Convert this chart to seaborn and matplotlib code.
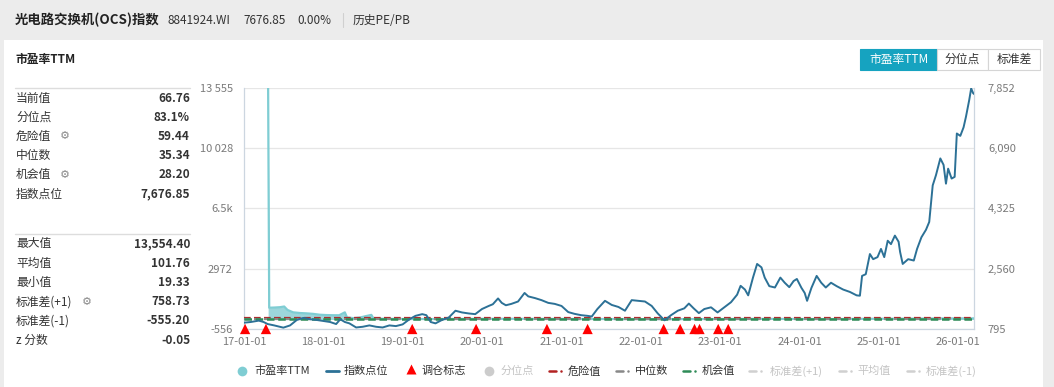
import matplotlib
matplotlib.use("Agg")
import matplotlib.pyplot as plt
import matplotlib.dates as mdates
from matplotlib.lines import Line2D
from matplotlib.patches import Rectangle
import pandas as pd
import seaborn as sns

# === DONNEES ===
index_dates = [
    "2017-01-01", "2017-02-01", "2017-03-10", "2017-04-01", "2017-04-20", "2017-05-20",
    "2017-07-01", "2017-08-01", "2017-09-01", "2017-10-01", "2017-11-01", "2017-12-01",
    "2018-01-01", "2018-02-01", "2018-03-01", "2018-03-20", "2018-04-10", "2018-05-01",
    "2018-06-01", "2018-07-01", "2018-08-01", "2018-09-01", "2018-10-01", "2018-11-01",
    "2018-12-01", "2019-01-01", "2019-02-01", "2019-03-01", "2019-04-01", "2019-04-20",
    "2019-05-10", "2019-06-01", "2019-07-01", "2019-08-01", "2019-09-01", "2019-10-01",
    "2019-11-01", "2019-12-01", "2020-01-01", "2020-02-01", "2020-02-20", "2020-03-15",
    "2020-04-01", "2020-04-20", "2020-05-15", "2020-06-15", "2020-07-15", "2020-08-01",
    "2020-09-01", "2020-10-01", "2020-11-01", "2020-12-01", "2021-01-01", "2021-02-01",
    "2021-03-01", "2021-04-01", "2021-05-01", "2021-05-20", "2021-06-15", "2021-07-20",
    "2021-08-20", "2021-09-20", "2021-10-20", "2021-11-20", "2021-12-20", "2022-01-20",
    "2022-02-20", "2022-03-20", "2022-04-20", "2022-05-20", "2022-06-20", "2022-07-20",
    "2022-08-10", "2022-09-01", "2022-09-25", "2022-10-20", "2022-11-20", "2022-12-20",
    "2023-01-20", "2023-02-20", "2023-03-20", "2023-04-05", "2023-04-25", "2023-05-10",
    "2023-06-01", "2023-06-20", "2023-07-10", "2023-07-25", "2023-08-15", "2023-09-10",
    "2023-10-05", "2023-10-25", "2023-11-15", "2023-12-05", "2023-12-20", "2024-01-10",
    "2024-01-25", "2024-02-05", "2024-02-25", "2024-03-20", "2024-04-10", "2024-05-01",
    "2024-05-25", "2024-06-20", "2024-07-20", "2024-08-20", "2024-09-20", "2024-10-05",
    "2024-10-15", "2024-11-01", "2024-11-20", "2024-12-05", "2024-12-25", "2025-01-10",
    "2025-01-25", "2025-02-10", "2025-02-25", "2025-03-15", "2025-04-01", "2025-04-08",
    "2025-04-20", "2025-05-15", "2025-06-10", "2025-06-25", "2025-07-15", "2025-08-05",
    "2025-08-20", "2025-09-05", "2025-09-20", "2025-10-10", "2025-10-25", "2025-11-05",
    "2025-11-15", "2025-12-01", "2025-12-15", "2025-12-25", "2026-01-10", "2026-01-25",
    "2026-02-05", "2026-02-20", "2026-03-01", "2026-03-10", "2026-03-14",
]
index_values = [
    980, 1000, 1040, 1000, 940, 900,
    835, 900, 1060, 1120, 1080, 1060,
    1030, 1000, 940, 1080, 1000, 960,
    840, 860, 900, 860, 840, 900,
    880, 930, 1080, 1180, 1230, 1200,
    1000, 960, 1060, 1130, 1330, 1280,
    1250, 1230, 1380, 1470, 1520, 1690,
    1560, 1490, 1530, 1600, 1850, 1750,
    1700, 1640, 1560, 1530, 1470, 1290,
    1240, 1200, 1180, 1160, 1380, 1620,
    1500, 1440, 1330, 1640, 1620, 1600,
    1470, 1250, 1050, 1200, 1330, 1400,
    1540, 1400, 1260, 1380, 1430, 1280,
    1430, 1580, 1800, 2060, 1950, 1780,
    2300, 2700, 2600, 2300, 2050, 2010,
    2300, 2150, 2020, 2200, 2260, 2000,
    1850, 1620, 2000, 2350, 2150, 2010,
    2150, 2050, 1950, 1880, 1780, 1770,
    2350, 2400, 2990, 2840, 2900, 3140,
    2900, 3380, 3280, 3530, 3350, 3050,
    2700, 2840, 2800, 3140, 3480, 3700,
    3930, 5000, 5300, 5790, 5600, 5050,
    5490, 5200, 5250, 6520, 6450, 6700,
    7010, 7500, 7840, 7700, 7677,
]

pe_dates = [
    "2017-04-22", "2017-04-27", "2017-05-20", "2017-06-15", "2017-07-05", "2017-07-20",
    "2017-08-15", "2017-09-15", "2017-10-15", "2017-11-15", "2017-12-15", "2018-01-15",
    "2018-02-15", "2018-03-15", "2018-04-10", "2018-04-20", "2018-05-20", "2018-06-20",
    "2018-07-20", "2018-08-10", "2018-08-20", "2018-10-01", "2019-01-01", "2019-06-01",
    "2020-01-01", "2020-06-01", "2021-01-01", "2021-06-01", "2022-01-01", "2022-06-01",
    "2023-01-01", "2023-06-01", "2024-01-01", "2024-06-01", "2025-01-01", "2025-06-01",
    "2025-10-01", "2026-03-14",
]
pe_values = [
    13554.4, 690, 700, 720, 760, 560,
    420, 380, 360, 330, 280, 260,
    250, 250, 420, 120, 80, 120,
    210, 270, 60, 45, 30, 28,
    40, 42, 35, 30, 25, 22,
    30, 38, 32, 28, 45, 50,
    62, 66.76,
]

rebalance_dates = [
    "2017-01-06", "2017-04-12", "2019-02-14", "2019-12-05", "2020-10-26", "2021-05-01",
    "2022-04-16", "2022-07-01", "2022-09-05", "2022-09-28", "2022-12-23", "2023-02-07",
]

danger_value = 59.44
median_value = 35.34
chance_value = 28.20

left_ticks = [-556, 2972, 6500, 10028, 13555]
left_tick_labels = ["-556", "2972", "6.5k", "10 028", "13 555"]
right_ticks = [795, 2560, 4325, 6090, 7852]
right_tick_labels = ["795", "2,560", "4,325", "6,090", "7,852"]

stats_top = [("当前值", "66.76"), ("分位点", "83.1%"), ("危险值", "59.44"),
             ("中位数", "35.34"), ("机会值", "28.20"), ("指数点位", "7,676.85")]
stats_bottom = [("最大值", "13,554.40"), ("平均值", "101.76"), ("最小值", "19.33"),
                ("标准差(+1)", "758.73"), ("标准差(-1)", "-555.20"), ("z 分数", "-0.05")]
gear_labels = ["危险值", "机会值", "标准差(+1)"]

legend_labels = ["市盈率TTM", "指数点位", "调仓标志", "分位点", "危险值", "中位数",
                 "机会值", "标准差(+1)", "平均值", "标准差(-1)"]

# === STYLE ===
sns.set_theme(style="white")
plt.rcParams["font.family"] = ["Noto Sans CJK SC", "DejaVu Sans"]

W, H = 1054, 387
fx = lambda x: x / W
fy = lambda y: 1 - y / H

PE_COLOR = "#7fcdd3"
IDX_COLOR = "#2c7196"
GREEN = "#2e8b57"
RED_DASH = "#b22222"
GRAY_DASH = "#888888"
TEXT = "#333333"
DISABLED = "#c4c4c4"

fig = plt.figure(figsize=(W / 100, H / 100), dpi=100)
fig.patch.set_facecolor("#ececec")
fig.add_artist(Rectangle((fx(4), 0), fx(1043) - fx(4), fy(40), transform=fig.transFigure,
                         facecolor="white", edgecolor="none", zorder=0))

# === BANDEAU TITRE ===
fig.text(fx(15), fy(20), "光电路交换机(OCS)指数", fontsize=9.6, weight="bold", color="#222", va="center")
for x, s in [(168, "8841924.WI"), (243, "7676.85"), (297, "0.00%"), (353, "历史PE/PB")]:
    fig.text(fx(x), fy(20), s, fontsize=8.5, color=TEXT, va="center")
fig.add_artist(Line2D([fx(343), fx(343)], [fy(13), fy(27)], transform=fig.transFigure, color="#d0d0d0", lw=0.8))

# === PANNEAU GAUCHE ===
fig.text(fx(16), fy(59), "市盈率TTM", fontsize=8.5, weight="bold", color="#222", va="center")
for y_sep in [88, 234]:
    fig.add_artist(Line2D([fx(15), fx(190)], [fy(y_sep), fy(y_sep)], transform=fig.transFigure,
                          color="#dddddd", lw=1))


def draw_stats(rows, y0):
    for i, (lab, val) in enumerate(rows):
        y = y0 + i * 19.2
        fig.text(fx(16), fy(y), lab, fontsize=8.5, color=TEXT, va="center")
        if lab in gear_labels:
            gx = 65 if len(lab) == 3 else 87
            fig.text(fx(gx), fy(y), "⚙", fontsize=8, color="#888", va="center", ha="center",
                     family="DejaVu Sans")
        fig.text(fx(190), fy(y), val, fontsize=8.5, weight="bold", color=TEXT, va="center", ha="right")


draw_stats(stats_top, 98)
draw_stats(stats_bottom, 244)

# === BOUTONS ===
for (x0, x1), lab, sel in [((860, 937), "市盈率TTM", True), ((937, 988), "分位点", False),
                           ((988, 1040), "标准差", False)]:
    fig.add_artist(Rectangle((fx(x0), fy(70)), fx(x1) - fx(x0), fy(49) - fy(70), transform=fig.transFigure,
                             facecolor="#16a3c0" if sel else "white",
                             edgecolor="#16a3c0" if sel else "#d5d5d5", lw=0.8))
    fig.text(fx((x0 + x1) / 2), fy(59.5), lab, fontsize=8.5, ha="center", va="center",
             color="white" if sel else TEXT)

# === GRAPHIQUE ===
ax = fig.add_axes([fx(244), fy(329), fx(974) - fx(244), fy(88) - fy(329)])
df_pe = pd.DataFrame({"date": pd.to_datetime(pe_dates), "pe": pe_values})
df_idx = pd.DataFrame({"date": pd.to_datetime(index_dates), "value": index_values})

ax.fill_between(df_pe["date"], df_pe["pe"], 0, color="#92d2d7", alpha=0.9, lw=0, zorder=2)
sns.lineplot(data=df_pe, x="date", y="pe", ax=ax, color=PE_COLOR, lw=1.6, zorder=3)
ax.axhline(danger_value, color=RED_DASH, ls=(0, (3, 1.5)), lw=1.6, zorder=4)
ax.axhline(median_value, color=GRAY_DASH, ls=(0, (3, 1.5)), lw=1.6, zorder=4)
ax.axhline(chance_value, color=GREEN, ls=(0, (3, 1.5)), lw=1.8, zorder=5)

ax.set_ylim(left_ticks[0], left_ticks[-1])
ax.set_yticks(left_ticks, left_tick_labels)
ax.set_xlim(pd.Timestamp("2017-01-01"), pd.Timestamp("2026-03-14"))
ax.xaxis.set_major_locator(mdates.YearLocator())
ax.xaxis.set_major_formatter(mdates.DateFormatter("%y-%m-%d"))
ax.grid(axis="y", color="#e6e6e6", lw=0.9)
ax.grid(axis="x", visible=False)
ax.set_xlabel("")
ax.set_ylabel("")
ax.tick_params(axis="y", length=0, pad=8, labelsize=8, labelcolor="#7a7a7a")
ax.tick_params(axis="x", length=4, width=0.8, color="#ccd6e0", pad=1.5, labelsize=8, labelcolor="#7a7a7a")
for side in ["left", "bottom", "right"]:
    ax.spines[side].set_color("#ccd6e0")
    ax.spines[side].set_linewidth(0.9)
ax.spines["top"].set_visible(False)

ax2 = ax.twinx()
sns.lineplot(data=df_idx, x="date", y="value", ax=ax2, color=IDX_COLOR, lw=1.4, zorder=3)
ax2.set_ylim(right_ticks[0], right_ticks[-1])
ax2.set_yticks(right_ticks, right_tick_labels)
ax2.tick_params(axis="y", length=0, pad=10, labelsize=8, labelcolor="#7a7a7a")
ax2.grid(False)
for side in ax2.spines:
    ax2.spines[side].set_visible(False)

df_reb = pd.DataFrame({"date": pd.to_datetime(rebalance_dates)})
df_reb["y"] = ax2.get_ylim()[0]
sns.scatterplot(data=df_reb, x="date", y="y", ax=ax2, marker="^", s=55, color="#ff0000",
                edgecolor="none", clip_on=False, zorder=6)
ax2.set_ylabel("")
ax2.set_xlabel("")

# === LEGENDE ===
ly = fy(371)
legend_items = [
    ("circle", PE_COLOR, 242, 254, TEXT),
    ("solid", IDX_COLOR, 326, 344, TEXT),
    ("tri", "#ff0000", 411, 421, TEXT),
    ("circle", "#cccccc", 489, 501, DISABLED),
    ("dash", RED_DASH, 549, 568, TEXT),
    ("dash", GRAY_DASH, 616, 635, TEXT),
    ("dash", GREEN, 683, 702, TEXT),
    ("dash", "#d0d0d0", 749, 770, DISABLED),
    ("dash", "#d0d0d0", 839, 857, DISABLED),
    ("dash", "#d0d0d0", 907, 926, DISABLED),
]
for (kind, col, mx, tx, tcol), lab in zip(legend_items, legend_labels):
    if kind == "circle":
        fig.add_artist(Line2D([fx(mx)], [ly], marker="o", ms=7, color=col, mec="none",
                              transform=fig.transFigure))
    elif kind == "tri":
        fig.add_artist(Line2D([fx(mx)], [ly + 0.004], marker="^", ms=7, color=col, mec="none",
                              transform=fig.transFigure))
    elif kind == "solid":
        fig.add_artist(Line2D([fx(mx), fx(mx + 13)], [ly, ly], color=col, lw=2, transform=fig.transFigure))
    else:
        fig.add_artist(Line2D([fx(mx), fx(mx + 7)], [ly, ly], color=col, lw=1.8, transform=fig.transFigure))
        fig.add_artist(Line2D([fx(mx + 12)], [ly], marker="o", ms=1.8, color=col, mec="none",
                              transform=fig.transFigure))
    fig.text(fx(tx), ly, lab, fontsize=8, color=tcol, va="center")

plt.savefig("out.png", dpi=100, facecolor=fig.get_facecolor())
plt.close()
